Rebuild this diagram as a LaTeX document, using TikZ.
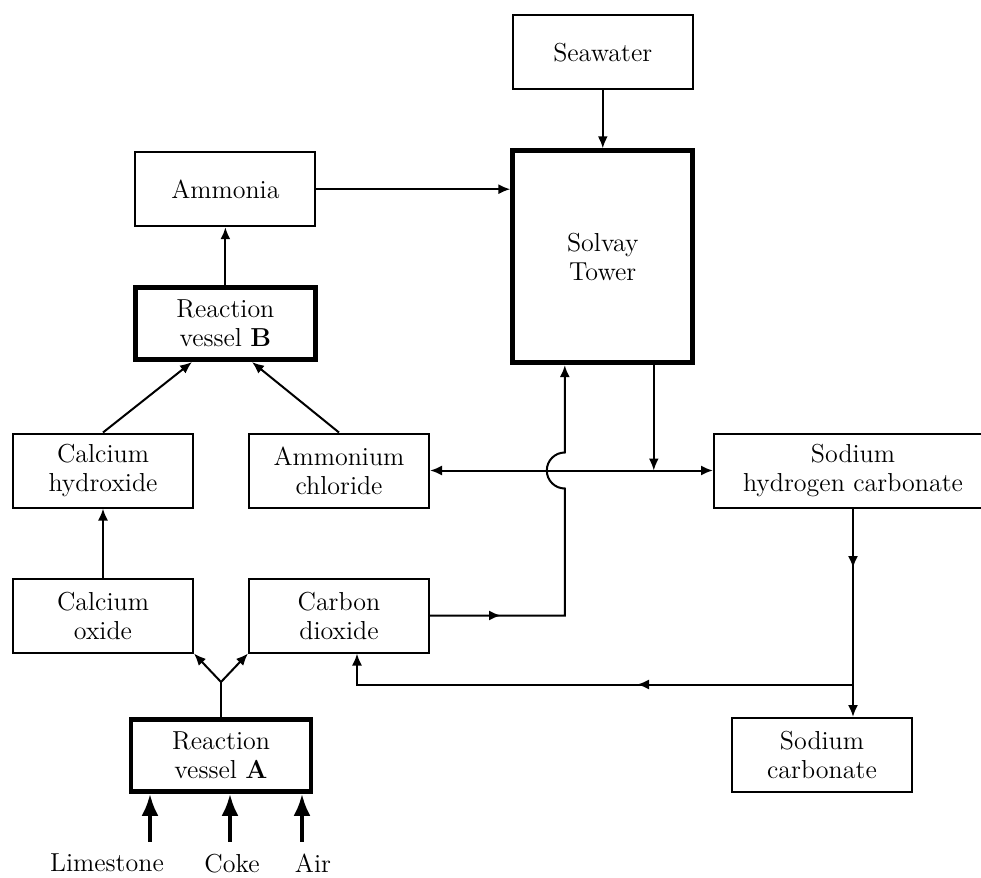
\documentclass[tikz,border=0pt]{standalone}
\usepackage{tikz}
\usepackage{amsmath}
\usetikzlibrary{positioning,arrows.meta,decorations.markings}

\begin{document}
\begin{tikzpicture}[
    line width=1pt,
    >={Latex[length=6pt,width=5pt]},
    box/.style={draw, line width=1pt, minimum width=90pt, minimum height=37pt,
      align=center, inner sep=2pt, font=\fontsize{13}{14.5}\selectfont},
    thickbox/.style={box, line width=2.4pt, minimum height=36pt},
    lbl/.style={inner sep=0pt, font=\fontsize{13}{14.5}\selectfont},
    feed/.style={line width=2pt, -{Latex[length=11pt,width=8.5pt]}},
    midtip/.style={postaction={decorate},
      decoration={markings, mark=at position #1 with {\arrow{>}}}}
  ]
      \path [use as bounding box] (0,0) rectangle (490.5pt,-439pt);
      \clip (0,0) rectangle (490.5pt,-439pt);

      \node [box] (cah) at (51.5pt,-235.25pt) {Calcium\\hydroxide};
      \node [box, right=27pt of cah] (nhc) {Ammonium\\chloride};
      \node [box, below=34.5pt of cah] (cao) {Calcium\\oxide};
      \node [box, right=27pt of cao] (co2) {Carbon\\dioxide};
      \coordinate [below right=14.25pt and 13.5pt of cao.south east] (junc);
      \node [thickbox, below=17.5pt of junc] (vesA) {Reaction\\vessel \textbf{A}};
      \node [thickbox, above right=35.25pt and 15pt of cah.north] (vesB) {Reaction\\vessel \textbf{B}};
      \node [box, above=29pt of vesB] (amm) {Ammonia};
      \node [thickbox, minimum height=106pt, right=97pt of amm, yshift=-33.75pt] (sol) {Solvay\\Tower};
      \node [box, above=29pt of sol] (sea) {Seawater};
      \node [box, minimum width=139pt, right=141.5pt of nhc] (nahc) {Sodium\\hydrogen carbonate};
      \node [box, below=104.25pt of nahc, xshift=-15.5pt] (nac) {Sodium\\carbonate};

      \coordinate [below=24pt of vesA.south, xshift=-35.5pt] (inlime);
      \coordinate [below=24pt of vesA.south, xshift=4.5pt] (incoke);
      \coordinate [below=24pt of vesA.south, xshift=40.5pt] (inair);
      \node [lbl, below=5.5pt of inlime, xshift=-21.5pt] (lime) {Limestone};
      \node [lbl, below=5.5pt of incoke, xshift=1pt] (coke) {Coke};
      \node [lbl, below=5.5pt of inair, xshift=5.5pt] (air) {Air};

      \coordinate [left=19pt of sol.south] (upx);
      \coordinate [right=25.5pt of sol.south] (dnx);
      \coordinate (jump) at (upx |- nhc.east);
      \coordinate [below=88pt of nahc.south] (br);

      \draw [->] (sea.south) -- (sea.south |- sol.north);
      \draw [->] (amm.east) -- (amm.east -| sol.west);
      \draw [->] (vesB) -- (amm);
      \draw [->] (cah.north) -- ([xshift=-16.7pt]vesB.south);
      \draw [->] (nhc.north) -- ([xshift=13.3pt]vesB.south);
      \draw [->] (cao) -- (cah);
      \draw (vesA) -- (junc);
      \draw [->] (junc) -- (cao.south east);
      \draw [->] (junc) -- (co2.south west);
      \draw [feed] (inlime) -- (inlime |- vesA.south);
      \draw [feed] (incoke) -- (incoke |- vesA.south);
      \draw [feed] (inair) -- (inair |- vesA.south);

      \draw [->, midtip=35.5pt] (co2.east) -- (co2.east -| upx) -- ([yshift=-9pt]jump)
        arc [start angle=-90, end angle=-270, radius=9pt] -- (upx);
      \draw [->] (dnx) -- (dnx |- jump);
      \draw [<->] (nhc.east) -- (nhc.east -| nahc.west);
      \draw [->, midtip=29.75pt] (nahc.south) -- (nahc.south |- nac.north);
      \draw [->, midtip=108pt] (br) -| ([xshift=9pt]co2.south);
\end{tikzpicture}
\end{document}
